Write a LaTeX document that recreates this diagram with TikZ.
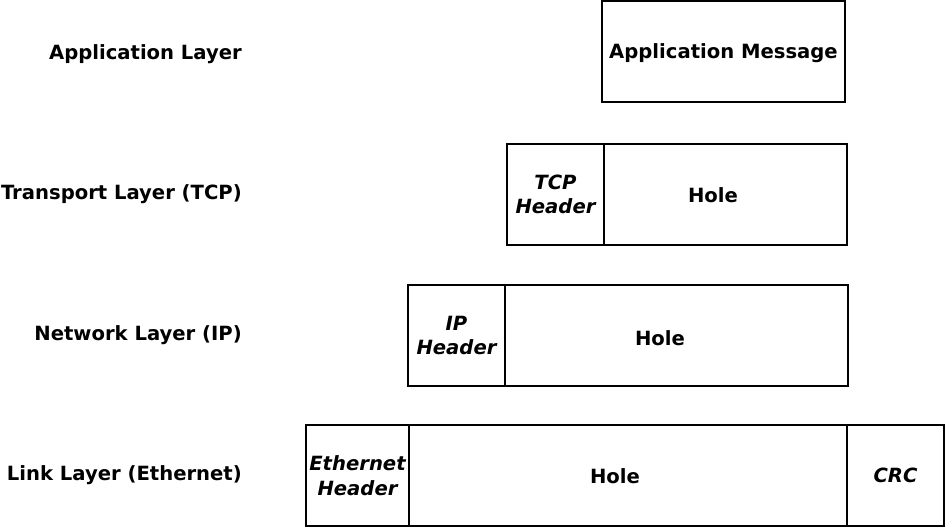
\documentclass[tikz,border=0pt]{standalone}
\usepackage{fontspec}
\setmainfont{DejaVu Sans}
\usetikzlibrary{positioning}
\newcommand{\boxfont}{\fontsize{19.6}{24.5}\selectfont\bfseries}
\tikzset{
	layer label/.style={anchor=east, inner sep=0pt, font=\boxfont},
	frame box/.style={draw, line width=1.4pt, minimum height=101pt, inner sep=0pt, font=\boxfont},
	header box/.style={frame box, font=\boxfont\itshape, align=center}
}

\begin{document}
\begin{tikzpicture}[x=1pt, y=-1pt]
	\useasboundingbox (0,0) rectangle (946,529);

	% layer names on the left
	\node [layer label] (appL)  at (242, 54)  {Application Layer};
	\node [layer label] (tcpL)  at (242, 194) {Transport Layer (TCP)};
	\node [layer label] (ipL)   at (242, 335) {Network Layer (IP)};
	\node [layer label] (linkL) at (242, 475) {Link Layer (Ethernet)};

	% application layer
	\node [frame box, minimum width=243pt, text depth=0pt] (appMsg) at (723.5, 51.5) {Application Message};

	% transport layer
	\node [header box, minimum width=97pt] (tcpHdr) at (555.5, 194.5) {TCP\\Header};
	\node [frame box, minimum width=243pt] (tcpHole) at (725.5, 194.5) {};
	\node [font=\boxfont] (tcpHoleT) at (713, 195) {Hole};

	% network layer
	\node [header box, minimum width=97pt] (ipHdr) at (456.5, 335.5) {IP\\Header};
	\node [frame box, minimum width=343pt] (ipHole) at (676.5, 335.5) {};
	\node [font=\boxfont] (ipHoleT) at (660, 338) {Hole};

	% link layer
	\node [header box, minimum width=103pt] (ethHdr) at (357.5, 475.5) {Ethernet\\Header};
	\node [frame box, minimum width=438pt] (ethHole) at (628, 475.5) {};
	\node [font=\boxfont] (ethHoleT) at (615, 476) {Hole};
	\node [header box, minimum width=97pt] (crc) at (895.5, 475.5) {CRC};
\end{tikzpicture}
\end{document}
